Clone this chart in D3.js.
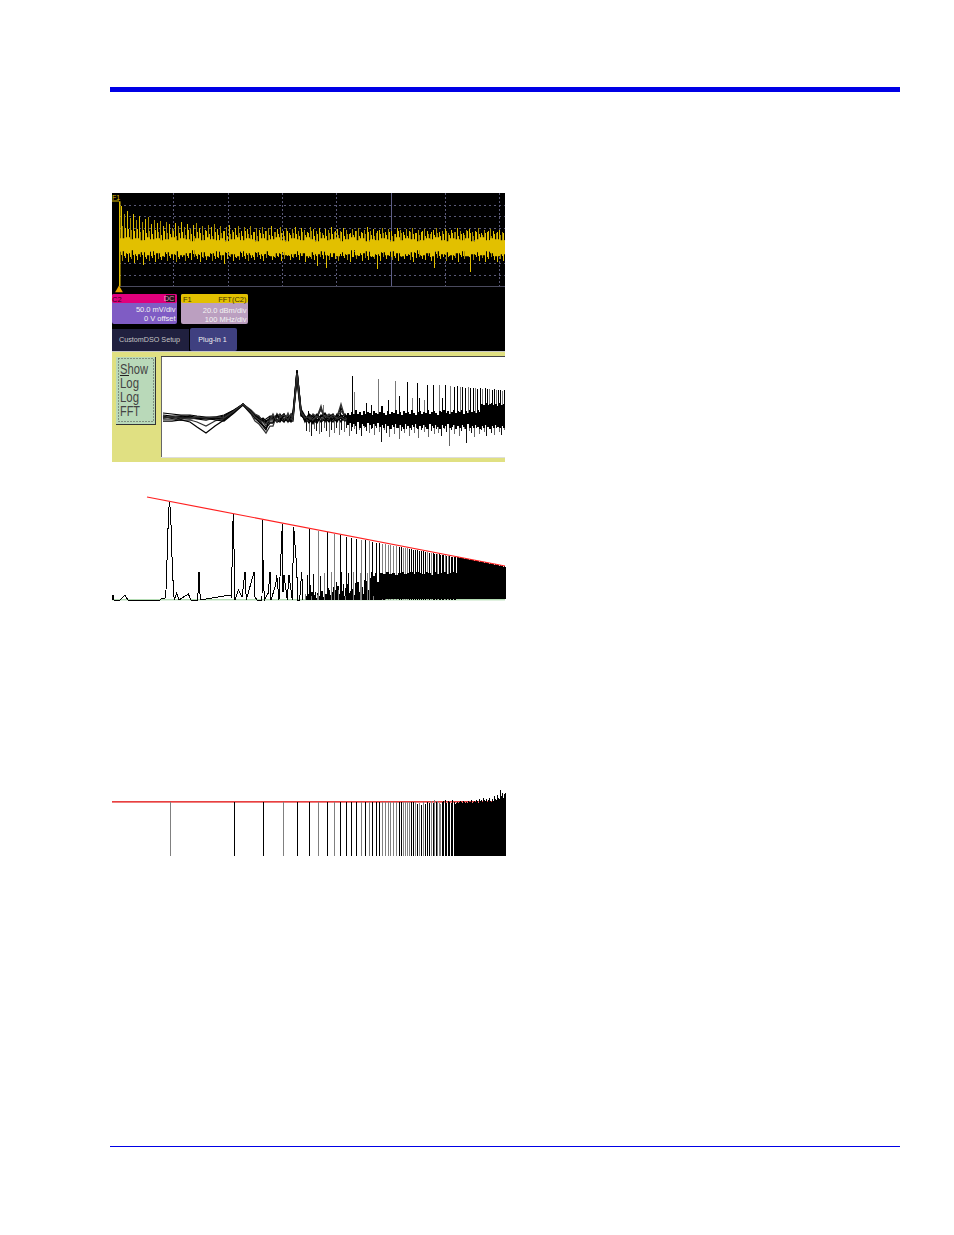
<!DOCTYPE html>
<html><head><meta charset="utf-8">
<script src="https://cdn.jsdelivr.net/npm/d3@7/dist/d3.min.js"></script>
<style>html,body{margin:0;padding:0;background:#fff}svg{display:block}text{font-family:"Liberation Sans",Arial,sans-serif}</style>
</head><body><div id="c"></div>
<script>
// ---------- DATA ----------
// Bins are horizontal positions along the spectrum; levels are heights above each panel floor.
const scopeUpperBinStart = 9, scopeUpperStep = 3;
const scopeUpper = [80,72,75,68,72,66,70,64,67,69,62,66,63,65,60,64,62,58,63,60,64,59,62,57,61,63,58,60,56,61,59,62,57,60,55,59,61,56,58,60,55,59,57,60,54,58,56,59,55,58,60,54,57,59,55,58,53,57,59,55,58,56,54,59,57,55,58,53,57,56,59,54,57,55,58,56,52,57,55,58,54,56,59,55,57,53,56,58,54,57,55,52,58,56,54,57,55,58,53,56,54,57,55,52,56,58,54,55,57,53,56,54,58,55,53,56,57,54,55,58,53,56,54,57,55,53,56,54];
const scopeUpperFringe = [60,58,57,56,55,57,54,56,53,55,52,56,54,51,55,53,52,55,50,53,54,51,56,52,50,54,53,51,55,52,50,54,51,53,55,50,52,54,51,53,50,55,52,51,54,50,53,52,55,51,50,54,52,53,50,55,51,53,52,50,54,51,53,55,50,52,54,51,50,53,52,55,51,54,50,52,53,51,55,50,53,52,54,51,50,55,52,53,51,54,50,52,55,53,51,50,54,52,53,51,55,50,52,54,51,53,50,52,55,51,53,54,50,52,51,55,53,50,54,52,51,53,55,50,52,54,51,53];
const scopeLower = [25,28,24,27,23,26,29,21,27,25,28,24,27,26,29,25,28,26,24,27,29,25,28,26,29,27,24,28,26,29,25,27,28,26,22,27,29,25,28,26,29,27,25,28,26,29,27,25,28,30,26,28,29,25,27,30,26,28,29,26,30,24,28,27,26,20,29,27,18,26,29,27,25,30,28,26,24,29,27,30,25,28,26,29,27,17,25,29,27,30,26,28,25,29,27,30,26,24,28,29,27,26,30,25,18,28,27,29,25,30,26,28,24,29,27,30,14,26,29,25,28,24,27,29,26,24,27,25];
const scopeLowerFringe = [31,30,32,29,31,30,33,31,29,32,30,31,33,29,31,32,30,33,31,29,32,31,30,33,32,30,31,29,33,31,32,30,29,32,31,33,30,32,29,31,33,30,31,32,29,33,31,30,32,31,33,29,30,32,31,33,30,29,32,31,30,33,32,29,31,30,33,31,32,30,29,33,31,32,30,31,33,29,32,30,31,33,30,32,29,31,30,33,32,31,29,30,33,31,32,30,31,29,33,32,30,31,33,29,31,32,30,33,31,29,32,30,33,31,30,32,29,33,31,30,32,31,29,33,30,32,31,30];
const scopeBandBinStart = 8, scopeBandStep = 5;
const scopeBandHi = [48,49,47,48,46,49,47,48,46,47,49,46,48,47,45,48,46,49,47,46,48,45,47,49,46,48,47,45,48,46,47,49,46,45,48,47,46,49,47,45,48,46,47,48,45,47,49,46,48,45,47,46,48,47,45,49,46,48,47,45,46,48,47,49,46,45,48,47,46,48,45,47,49,46,48,47,46,48];
const scopeBandLo = [35,33,36,32,34,31,35,33,30,34,32,35,31,33,36,32,34,30,33,35,31,34,32,30,35,33,31,34,32,35,30,33,34,31,32,35,33,30,34,32,35,31,33,30,34,32,36,31,33,35,30,32,34,31,35,33,30,32,34,36,31,33,30,35,32,34,31,33,35,30,32,34,31,35,33,30,32,34];
const scopeTraceStart = [0, 85];
const scopeHorizontalDivs = [0,1,2,3,4,5,6,7,8];
const scopeVerticalDivs = [0,1,2,3,4,5,6,7];

const channelLabels = ["C2","DC","50.0 mV/div","0 V offset"];
const mathLabels = ["F1","FFT(C2)","20.0 dBm/div","100 MHz/div"];
const tabLabels = ["CustomDSO Setup","Plug-in 1"];
const buttonLabels = ["Show","Log","Log","FFT"];

const plotBins = [51,60,69,78,85,94,103,112,122,131,139,143,147,151,154,158,161,165,168,172,176,179,181,185,189,193,197,201,205,209,213,217,221,225,229,233,237];
const plotTraces = [
 [43,42,42,41,41,40,39,41,47,54,47,42,40,38,36,39,39,43,40,37,41,43,42,86,48,38,42,36,40,50,38,41,40,42,50,41,44],
 [41,40,41,40,39,38,40,42,48,54,46,40,38,33,30,35,35,41,41,44,38,36,44,88,46,40,36,43,38,41,45,39,40,36,43,39,41],
 [39,39,38,38,36,32,37,40,47,53,44,37,34,29,25,32,32,44,38,39,43,40,39,84,45,37,40,34,42,48,41,44,41,40,47,42,38],
 [37,37,38,36,31,25,32,38,46,54,46,43,41,38,39,42,42,37,36,42,39,44,44,80,42,41,35,40,44,36,39,42,36,44,40,37,43],
 [45,44,43,43,42,41,41,43,48,53,45,40,37,40,37,40,40,36,44,38,37,41,41,88,47,36,43,38,35,42,44,37,42,38,41,44,36],
 [40,41,40,39,40,39,39,39,46,54,48,44,42,36,32,38,38,44,42,36,45,38,43,76,44,39,37,44,41,52,36,43,40,41,54,40,42],
 [40,41,39,42,40,40,38,37,45,53,47,40,36,32,28,41,41,38,37,44,36,42,46,87,49,42,38,35,43,40,37,41,44,37,42,38,40],
 [42,40,41,41,40,40,40,39,47,54,45,42,39,37,35,36,36,43,39,36,41,37,37,82,43,38,44,41,36,43,40,36,39,43,36,42,39],
 [41,41,40,40,41,40,41,40,47,54,46,41,38,36,34,38,44,36,41,43,38,44,40,85,46,40,41,38,42,39,42,40,43,39,41,38,41]
];
const plotBandBinStart = 235, plotBandStep = 2;
const plotBandHi = [45,43,46,44,48,44,46,43,47,44,46,45,43,47,45,44,46,52,45,43,47,44,46,45,48,44,46,43,47,45,46,44,48,45,43,46,47,44,46,45,48,44,46,47,45,43,47,46,48,45,47,44,46,48,45,47,46,48,44,47,45,48,46,47,45,48,46,54,53,55,53,54,55,53,54,52,55,53,54,53];
const plotBandLo = [33,35,31,34,32,36,30,34,32,31,35,33,30,34,32,35,31,33,30,34,32,29,33,31,34,30,33,31,29,34,32,30,33,31,34,29,32,30,33,31,29,34,32,30,33,31,29,33,30,32,34,30,31,33,29,32,30,33,31,29,34,30,32,30,33,31,29,32,30,33,31,29,32,30,33,31,30,32,30,31];
const plotUpBins = [196,211,228,240,242,254,259,266,270,276,283,287,295,300,305,307,312,315,321,327,330,333,338,342,345,348,350,353,356,358,361,363,365,368,370,373,375,377,380,382,384,386,388,390,392];
const plotUpVals = [ 47, 53, 53, 82, 66, 55, 53, 79, 50, 58, 77, 62, 76, 60, 75, 60, 58, 73, 73, 73, 60, 73, 72, 71, 72, 71, 71, 70, 71, 70, 70, 70, 69, 70, 69, 70, 69, 69, 68, 69, 68, 68, 68, 67, 68];
const plotDownBinStart = 194, plotDownStep = 2.5;
const plotDownVals = [27,26,22,29,27,24,26,30,27,21,28,25,30,23,28,26,30,22,27,29,24,28,22,30,27,25,29,23,30,26,16,28,25,21,29,24,30,19,27,25,29,22,28,25,30,20,28,26,29,21,27,24,29,25,22,29,26,12,28,24,30,22,27,29,15,27,25,21,30,24,28,26,22,29,25,23,30,26,23,28];

const harmonicBins = [58,122,151,171,185,197,206,215,222,228,234,239,244,249,253,257,260,264,267,270,273,276,278,281,284,287,289,291,293,295,297,299,301,303,305,307,309,311,313,315,317,319,321,322,324,325,327,328,330,331,333,334,336,337,339,340,342,343];
const fitAmps = [98,86,80,76,73,71,69,68,66,65,63,62,61,60,60,59,58,57,57,56,56,55,55,54,54,53,53,52,52,52,51,51,50,50,50,49,49,49,48,48,47,47,47,46,46,46,46,45,45,45,45,44,44,44,43,43,43,43];
const fitFaintBins = [58,171,206,222,249,257,270,273,276,278,281,284,291,293,295,315,319,325,333,336];
const fitLineBins = [35, 393];
const fitLineAmps = [103, 34];
const leftSpectrumBins = [0,1,2,8,13,16,48,50,53,54,54.7,55.3,56.5,57.5,58.7,59.7,60.7,61.3,62.3,64.7,67,76.3,79,85.7,87,88.3,118,119.7,120.3,121.3,122.3,123,126.3,130,133,134.3,142,143,145,150,150.3,151,152.3,156.3,158,159,163.7,164.7,167,170.3,171,172,175.3,177,180.3,181.7,184.7,185.7,187.7,189.7,191];
const leftSpectrumAmps = [0,5,0,0,5,0,0,2,2,10,30,49,87,98,87,49,30,10,0,7,0,6,0,0,28,0,5,3,60,86,37,0,10,3,28,0,28,3,0,0,80,40,0,7,28,0,15,25,0,76,8,25,0,25,0,73,33,0,0,28,0];
const midSpectrumBins = [193,195,198,199,201,203,205,208,210,212,214,217,219,221,224,226,229,231,233,236,238,241,243,246,248,250,252,255,257,259,261,263,265,267];
const midSpectrumAmps = [6,25,15,4,26,8,5,24,3,27,6,10,28,13,18,10,28,16,4,27,9,28,17,8,27,5,20,27,6,28,4,27,8,18];
const midFillBinStart = 193, midFillStep = 2;
const midFillAmps = [4,6,3,8,5,2,7,4,9,3,6,12,5,8,3,10,14,6,9,4,12,16,7,11,5,14,18,8,13,6,19,10,22,7,24,12,18,26,9,22];
const floorBinStart = 268, floorStep = 3;
const floorAmps = [27,26,28,26,27,25,27,28,26,27,28,26,28,27,26,28,27,25,28,26,27,28,26,27,28,27];
const denseFitBinStart = 345;
const denseFitAmps = [43,43,42,43,42,42,42,41,42,41,41,41,40,41,40,40,40,39,40,39,39,39,38,39,38,38,38,37,38,37,37,37,36,37,36,36,36,35,36,35,35,35,34,35,34,34,33,34,33];

const flatAmps = [54,54,54,54,54,54,54,54,54,54,54,54,54,54,54,54,54,54,54,54,54,54,54,54,54,54,54,54,54,54,54,54,54,54,52,53,51,54,52,54,53,55,53,56,54,55,53,52,54,55,56,53,55,54,53,56,54,52];
const flatFaintBins = [58,171,206,222,249,257,270,273,276,278,281,284,291,293,295,297,303,307,311,319,322,325,327,328];
const flatLineBins = [0, 393];
const flatLineAmps = [54, 54];
const denseFlatBinStart = 344;
const denseFlatAmps = [53,54,53,54,55,54,53,55,54,53,54,53,55,54,54,56,53,54,55,54,56,55,53,57,55,56,54,58,56,55,57,54,56,58,55,54,57,55,60,57,56,61,58,57,66,60,63,58,62,63];

// ---------- CHART ----------
const svg = d3.select("#c").append("svg").attr("width",954).attr("height",1235);
const rect=(x,y,w,h,f,r)=>svg.append("rect").attr("x",x).attr("y",y).attr("width",w).attr("height",h).attr("fill",f).attr("rx",r||0);
const label=(t,x,y,size,fill,anchor)=>svg.append("text").attr("x",x).attr("y",y).attr("font-size",size).attr("fill",fill).attr("text-anchor",anchor||"start").text(t);
const X = d3.scaleLinear().domain([0,393]).range([112,505]);
const bars=(g,pts,y,fill,w)=>g.selectAll(null).data(pts).join("rect").attr("x",d=>Math.round(X(d[0]))).attr("width",w||1)
  .attr("y",d=>Math.round(y(d[1]))).attr("height",d=>Math.max(0,Math.round(y.range()[0])-Math.round(y(d[1])))).attr("fill",fill).attr("shape-rendering","crispEdges");
svg.append("clipPath").attr("id","plotClip").append("rect").attr("x",162).attr("y",357).attr("width",343).attr("height",100);

rect(110,87,790,5,"#0000e6");
rect(110,1146,790,1,"#0000e6");

// --- oscilloscope screen ---
rect(112,193,393,158,"#000");
const sY = d3.scaleLinear().domain([0,93.3]).range([286.3,193]);
const sDiv = d3.scaleLinear().domain([0,8]).range([193,286.3]);
const sVert = d3.scaleLinear().domain([0,7]).range([119,499.3]);
const grid = svg.append("g");
scopeHorizontalDivs.slice(1,8).forEach(d=>grid.append("line").attr("x1",119).attr("x2",505).attr("y1",Math.round(sDiv(d))+.5).attr("y2",Math.round(sDiv(d))+.5).attr("stroke","#5a5a78").attr("stroke-dasharray","2 3"));
scopeVerticalDivs.slice(1).forEach(d=>grid.append("line").attr("x1",Math.round(sVert(d))+.5).attr("x2",Math.round(sVert(d))+.5).attr("y1",193).attr("y2",286).attr("stroke",d===5?"#5e5e86":"#5a5a78").attr("stroke-dasharray",d===5?null:"2 2"));
grid.append("line").attr("x1",119).attr("x2",505).attr("y1",286.5).attr("y2",286.5).attr("stroke","#4a4a5e");

const yellow="#e2c000", dark="#a98f00";
const bandBin=i=>scopeBandBinStart+i*scopeBandStep;
const scopeG=svg.append("g");
const upBars=(arr,off,f)=>scopeG.selectAll(null).data(arr.map((v,i)=>[scopeUpperBinStart+off+i*scopeUpperStep,v])).join("rect").attr("x",d=>X(d[0])).attr("width",1).attr("y",d=>Math.round(sY(d[1]))).attr("height",d=>Math.round(sY(40))-Math.round(sY(d[1]))).attr("fill",f).attr("shape-rendering","crispEdges");
const downBars=(arr,off,f)=>scopeG.selectAll(null).data(arr.map((v,i)=>[scopeUpperBinStart+off+i*scopeUpperStep,v])).join("rect").attr("x",d=>X(d[0])).attr("width",1).attr("y",Math.round(sY(40))).attr("height",d=>Math.round(sY(d[1]))-Math.round(sY(40))).attr("fill",f).attr("shape-rendering","crispEdges");
upBars(scopeUpper,0,(d,i)=>i%2?dark:yellow);
upBars(scopeUpperFringe,1,(d,i)=>i%3?yellow:dark);
downBars(scopeLower,1,(d,i)=>i%3?yellow:dark);
downBars(scopeLowerFringe,0,yellow);
scopeG.append("path").datum(scopeBandHi.map((h,i)=>[bandBin(i),h,scopeBandLo[i]])).attr("fill",yellow)
 .attr("d",d3.area().x(d=>X(d[0])).y0(d=>sY(d[2])).y1(d=>sY(d[1])).curve(d3.curveStepAfter));
scopeG.append("rect").attr("x",X(7)).attr("width",1.5).attr("y",sY(scopeTraceStart[1])).attr("height",sY(scopeTraceStart[0])-sY(scopeTraceStart[1])).attr("fill",yellow);
svg.append("path").attr("d",d3.symbol(d3.symbolTriangle,26)()).attr("transform","translate(119,290)").attr("fill","#e8a800");
label("F1",112,199.5,7,"#e2c000");
rect(112,200.5,7,1,"#e2c000");

// channel descriptors
rect(112,294,65,30,"#7f5cc4",2); rect(112,294,65,9,"#e0007c",2);
rect(166,295,9,7,"#2a1020");
label(channelLabels[0],112,301.5,7.5,"#300018");
label(channelLabels[1],174.5,301.3,7.5,"#d0a0b0","end");
label(channelLabels[2],175.5,311.5,7.5,"#f2f2f2","end");
label(channelLabels[3],175.5,320.5,7.5,"#f2f2f2","end");
rect(181,294,67,30,"#bb9fc0",2); rect(181,294,67,9,"#e2c000",2);
label(mathLabels[0],183,301.5,7.5,"#3a3000");
label(mathLabels[1],246.5,301.5,7.5,"#3a3000","end");
label(mathLabels[2],246.5,312.5,7.5,"#f2f2f2","end");
label(mathLabels[3],246.5,321.5,7.5,"#f2f2f2","end");
// tabs
rect(112,329,77,22,"#20203f");
rect(190,328,47,23,"#3f4080",2);
label(tabLabels[0],119,342,7.2,"#c4c4c4");
label(tabLabels[1],212.5,342,7.2,"#f0f0f0","middle");

// --- plug-in panel ---
rect(112,351,393,111,"#e0e082");
rect(112,351,393,1,"#c8c8c8");
rect(161,356,344,1,"#444");
rect(116,357,40,68,"#333");
rect(116,357,39,67,"#b9d9b9");
svg.append("rect").attr("x",118.5).attr("y",358.5).attr("width",35).attr("height",63).attr("fill","none").attr("stroke","#444").attr("stroke-dasharray","1 2");
const buttonWidths=[28,19,19,20];
buttonLabels.forEach((t,i)=>label(t,120,374+i*14,14,"#444").attr("textLength",buttonWidths[i]).attr("lengthAdjust","spacingAndGlyphs").attr("font-weight",300));
rect(120,375,9,1,"#222");
rect(161,357,344,101,"#fff");
rect(161,357,1,101,"#666");
rect(161,457,344,1,"#ddd");
const pY = d3.scaleLinear().domain([0,101]).range([458,357]);
const pLine=d3.line().x((d,i)=>X(plotBins[i])).y(d=>pY(d));
const pg=svg.append("g").attr("clip-path","url(#plotClip)");
const plotFloor=Math.round(pY(39));
plotUpBins.forEach((b,i)=>pg.append("rect").attr("x",X(b)).attr("width",1).attr("y",Math.round(pY(plotUpVals[i]))).attr("height",plotFloor-Math.round(pY(plotUpVals[i]))).attr("fill",i%3===1?"#777":"#000").attr("shape-rendering","crispEdges"));
plotDownVals.forEach((v,i)=>pg.append("rect").attr("x",Math.round(X(plotDownBinStart+i*plotDownStep))).attr("width",1).attr("y",plotFloor).attr("height",pY(v)-plotFloor).attr("fill",i%2?"#666":"#111").attr("shape-rendering","crispEdges"));
plotTraces.forEach((t,i)=>pg.append("path").attr("d",pLine(t)).attr("fill","none").attr("stroke",i%3===2?"#333":"#000").attr("stroke-width",1.25));
plotBandHi.forEach((h,i)=>pg.append("rect").attr("x",X(plotBandBinStart+i*plotBandStep)).attr("width",2).attr("y",Math.round(pY(h))).attr("height",Math.round(pY(plotBandLo[i]))-Math.round(pY(h))).attr("fill","#000").attr("shape-rendering","crispEdges"));

// --- fitted-slope spectrum ---
const fY = d3.scaleLinear().domain([0,110]).range([600,490]);
const fit=svg.append("g");
fit.append("rect").attr("x",112).attr("y",599).attr("width",393).attr("height",1.4).attr("fill","#b4dcb4");
fit.append("path").attr("d",d3.line().x((d,i)=>X(leftSpectrumBins[i])).y(d=>fY(d))(leftSpectrumAmps)).attr("fill","none").attr("stroke","#000").attr("stroke-width",1).attr("shape-rendering","crispEdges");
const faintFit=new Set(fitFaintBins);
bars(fit,midFillAmps.map((a,i)=>[midFillBinStart+i*midFillStep,a]),fY,"#000",2);
bars(fit,midSpectrumBins.map((b,i)=>[b,midSpectrumAmps[i]]),fY,(d,i)=>i%3?"#000":"#808080");
bars(fit,harmonicBins.slice(5).map((b,i)=>[b,fitAmps[i+5]]),fY,d=>faintFit.has(d[0])?"#808080":"#000");
floorAmps.forEach((a,i)=>fit.append("rect").attr("x",X(floorBinStart+i*floorStep)).attr("width",floorStep).attr("y",Math.round(fY(a))).attr("height",599-Math.round(fY(a))).attr("fill","#000"));
denseFitAmps.forEach((a,i)=>fit.append("rect").attr("x",X(denseFitBinStart+i)).attr("width",1).attr("y",Math.round(fY(a))).attr("height",599-Math.round(fY(a))).attr("fill","#000"));
fit.append("line").attr("x1",X(fitLineBins[0])).attr("x2",X(fitLineBins[1])).attr("y1",fY(fitLineAmps[0])).attr("y2",fY(fitLineAmps[1])).attr("stroke","#ff2020").attr("stroke-width",1.2);

// --- flattened spectrum ---
const lY = d3.scaleLinear().domain([0,60]).range([856,796]);
const flat=svg.append("g");
flat.append("line").attr("x1",X(flatLineBins[0])).attr("x2",X(flatLineBins[1])).attr("y1",lY(flatLineAmps[0])-.2).attr("y2",lY(flatLineAmps[1])-.2).attr("stroke","#e00000").attr("stroke-width",1.3);
const faintFlat=new Set(flatFaintBins);
bars(flat,harmonicBins.map((b,i)=>[b,flatAmps[i]]),lY,d=>faintFlat.has(d[0])?"#808080":"#000");
bars(flat,denseFlatAmps.map((a,i)=>[denseFlatBinStart+i,a]),lY,"#000");
</script></body></html>
